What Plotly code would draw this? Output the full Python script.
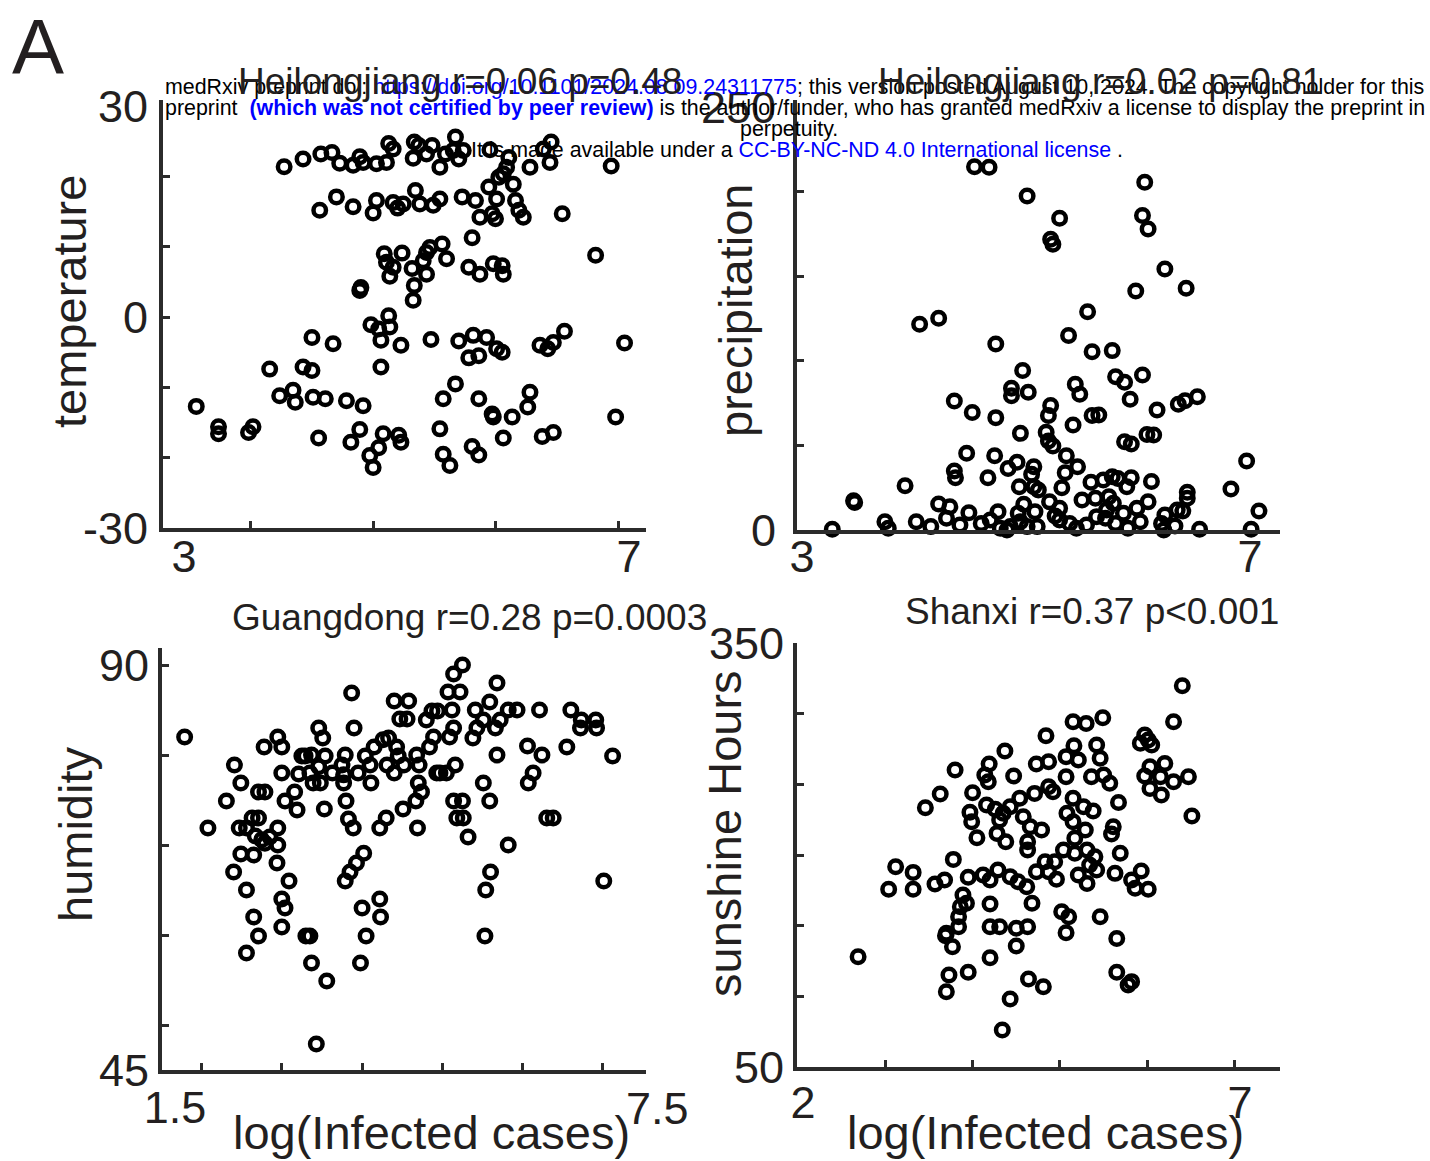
import plotly.graph_objects as go

# ---------------- data ----------------
# Heilongjiang: log(infected cases) vs temperature
hlj_temp_x = [3.90,4.07,4.23,4.33,4.40,4.52,4.58,4.61,4.73,4.82,4.84,4.88,5.07,5.06,5.11,5.18,5.23,5.30,5.35,5.44,
              5.42,5.47,5.51,5.75,5.92,5.90,5.87,5.83,5.96,6.11,6.29,6.30,6.23,6.84,4.22,4.37,4.52,4.70,4.73,4.88,
              4.92,4.97,5.08,5.12,5.24,5.30,5.50,5.62,5.66,5.74,5.81,5.77,5.80,5.98,6.01,6.05,6.40,5.59,4.80,4.82,
              4.96,4.88,4.85,5.05,5.18,5.21,5.15,5.32,5.36,5.18,5.56,5.66,5.78,5.86,5.87,5.07,5.06,4.59,4.58,6.70,
              4.84,4.68,4.75,4.85,4.77,4.95,4.15,4.34,5.22,5.47,5.60,5.72,5.56,5.65,5.81,5.86,6.20,6.27,6.32,6.42,
              6.96,4.77,3.77,4.07,4.15,3.11,3.86,3.98,4.00,4.16,4.27,4.46,4.61,5.44,5.33,5.65,6.11,6.09,5.77,5.78,
              5.95,6.88,3.31,3.31,3.58,3.62,4.21,4.58,4.50,4.79,4.93,4.95,4.75,4.67,4.70,5.30,5.33,5.39,5.59,5.65,
              5.87,6.22,6.32]
hlj_temp_y = [21.4,22.5,23.2,23.4,21.9,21.6,22.8,22.0,21.8,22.0,24.7,23.9,24.9,22.6,24.4,23.2,24.4,21.3,23.2,25.6,
              23.7,22.5,23.7,23.8,22.7,21.3,20.4,19.9,18.9,21.3,22.0,24.9,23.9,21.5,15.2,17.1,15.7,14.8,16.6,16.3,
              15.5,16.1,18.0,16.1,15.9,16.8,17.1,16.6,14.2,18.5,16.8,14.7,14.0,16.6,15.2,14.2,14.7,11.3,9.0,7.8,
              9.1,7.1,5.8,6.9,9.2,9.9,8.0,10.4,8.3,6.1,7.1,6.1,7.6,7.3,6.1,4.5,2.4,4.2,3.8,8.8,
              0.2,-1.1,-1.7,-1.4,-3.3,-4.0,-2.9,-3.8,-3.2,-3.4,-2.6,-2.9,-5.8,-5.5,-4.5,-5.0,-4.0,-4.5,-3.6,-2.0,
              -3.7,-7.1,-7.4,-7.1,-7.6,-12.7,-11.2,-10.4,-12.1,-11.4,-11.6,-11.9,-12.6,-9.5,-11.6,-11.6,-10.7,-12.8,-13.8,-14.2,
              -14.2,-14.2,-15.6,-16.6,-16.4,-15.6,-17.2,-16.0,-17.8,-16.6,-16.8,-17.8,-18.6,-19.7,-21.4,-15.9,-19.5,-21.1,-18.4,-19.6,
              -17.2,-17.0,-16.4]

# Heilongjiang: log(infected cases) vs precipitation
hlj_prec_x = [4.54,4.67,5.01,5.30,5.22,5.24,6.06,6.04,6.09,6.24,6.43,5.98,5.55,4.05,4.22,4.73,5.38,5.59,5.77,4.97,
              4.87,4.87,5.02,5.44,5.48,5.80,5.88,6.04,5.93,4.36,4.52,4.73,4.95,5.22,5.20,5.18,5.20,5.24,5.42,5.59,
              5.65,6.17,6.36,6.42,6.53,5.88,5.94,6.08,6.14,4.47,4.72,4.36,4.37,4.66,4.92,4.84,5.07,5.05,5.36,5.46,
              5.35,6.97,3.92,3.46,3.47,4.94,5.07,5.11,5.32,5.58,5.69,5.77,5.82,5.90,5.94,6.12,6.83,6.44,6.44,7.08,
              4.22,4.32,4.49,4.75,4.98,5.08,5.21,5.30,5.50,5.62,5.74,5.78,5.99,6.09,6.35,6.40,6.24,4.02,4.15,3.74,
              3.77,3.27,4.29,4.41,4.60,4.68,4.77,4.86,4.95,5.01,5.10,5.30,5.39,5.45,5.54,5.63,5.71,5.80,5.91,6.02,
              6.21,6.33,6.55,7.01,6.23,4.83,4.93,5.26,5.72,5.87]
hlj_prec_y = [214.7,214.3,197.4,184.2,171.8,168.8,205.5,185.8,177.9,154.3,142.8,141.3,129.0,121.6,125.1,109.9,114.9,105.4,106.0,94.2,
              83.7,79.4,81.4,86.1,80.2,90.6,87.3,91.6,77.2,76.2,69.5,66.4,57.1,73.5,67.6,57.7,52.6,49.6,62.1,67.6,
              68.0,70.9,74.3,76.4,78.8,52.2,50.8,56.5,56.1,45.3,43.9,34.9,30.9,30.9,40.0,36.4,37.4,32.9,43.9,37.4,
              33.9,40.8,26.2,17.3,16.2,25.6,25.6,23.6,25.0,28.2,29.6,31.5,30.5,25.6,30.9,28.6,24.2,22.3,18.7,11.2,
              15.4,13.8,10.2,10.8,15.2,10.8,16.7,12.8,17.7,18.7,19.7,15.8,12.8,16.7,11.8,11.2,8.9,4.9,2.0,4.9,
              1.0,0.4,6.9,3.0,3.9,5.9,1.0,2.0,4.9,2.0,2.0,5.9,3.9,1.0,3.0,7.9,6.9,3.9,1.0,4.9,
              3.9,2.4,0.4,0.4,0.0,0.0,9.9,8.3,11.8,9.9]

# Guangdong: log(infected cases) vs humidity
gd_hum_x = [1.62,1.91,2.14,2.24,2.32,2.30,2.39,2.46,2.54,2.50,2.58,2.62,2.68,2.78,2.78,2.32,2.48,2.23,2.39,2.77,
            2.92,2.83,2.87,2.48,2.54,2.39,2.83,2.54,2.62,2.61,2.78,2.83,2.83,2.87,2.99,3.02,3.04,3.12,3.20,3.22,
            3.29,3.31,3.29,3.34,3.37,3.36,3.46,3.58,3.60,3.62,3.60,3.63,3.66,3.72,3.70,3.73,3.78,3.87,3.93,3.94,
            3.98,4.09,4.16,4.14,4.23,4.26,4.28,4.35,4.23,4.41,4.30,4.39,4.05,4.13,4.34,4.51,4.54,4.53,4.57,4.50,
            4.52,3.85,3.76,3.68,3.62,3.83,3.88,3.81,4.05,4.06,3.13,3.18,3.20,3.39,3.26,4.63,4.67,4.70,4.77,4.72,
            4.80,4.88,4.92,4.97,4.99,4.95,4.90,4.97,5.08,5.05,4.97,5.08,5.01,5.09,5.15,5.21,5.24,5.26,5.34,5.42,
            5.49,5.51,5.55,5.51,5.34,5.42,5.65,5.76,5.65,5.43,5.37,5.36,5.89,5.96,5.90,6.07,6.04,6.13,6.21,6.38,
            6.43,6.56,6.55,6.74,6.75,6.95,6.84,3.08,3.18,4.76]
gd_hum_y = [82.0,71.9,74.9,78.9,76.9,71.9,71.9,73.0,73.0,71.0,70.6,70.2,70.9,71.9,70.0,69.0,68.9,67.0,65.0,68.0,
            66.0,64.0,63.0,62.0,59.9,58.0,60.9,75.9,75.9,80.9,82.0,80.9,78.0,74.9,75.9,73.9,77.9,79.9,80.0,76.9,
            78.7,76.9,83.0,81.9,79.9,74.0,78.0,78.9,77.8,80.0,76.9,74.9,72.9,71.9,86.9,83.0,78.0,79.9,78.9,76.9,
            80.9,81.7,81.9,78.9,78.0,80.9,79.9,78.9,86.0,86.0,84.0,84.0,71.9,73.0,74.0,80.0,78.9,76.9,75.9,74.9,
            71.9,69.1,68.0,67.0,66.0,63.0,59.9,56.9,64.0,62.0,59.9,59.9,56.9,54.9,47.9,83.9,80.9,84.9,84.9,82.0,
            78.0,78.0,82.0,83.0,78.9,85.0,87.0,89.0,90.0,87.0,74.9,74.9,73.0,73.0,70.9,81.9,85.0,83.0,83.9,85.9,
            83.0,88.0,83.9,80.0,76.9,74.9,85.0,85.0,70.0,67.0,65.0,59.9,81.0,78.0,76.9,80.0,85.0,73.0,73.0,80.9,
            85.0,83.9,83.0,83.9,83.0,79.9,66.0,79.9,78.0,78.0]

# Shanxi: log(infected cases) vs sunshine hours
sx_sun_x = [6.34,6.24,5.09,5.24,5.43,4.78,4.31,4.13,4.08,4.12,4.41,3.74,3.57,3.40,3.94,3.91,3.93,3.99,4.10,4.20,
            4.29,4.37,4.48,4.65,4.25,4.22,4.32,4.52,4.60,4.73,4.57,4.57,4.67,4.81,5.01,5.10,5.15,5.36,5.40,5.30,
            5.44,5.51,5.01,4.81,4.86,5.09,5.21,5.32,5.61,5.02,5.09,5.23,5.55,5.53,5.63,4.98,5.11,5.25,5.34,5.36,
            5.91,5.95,5.86,5.99,5.97,6.14,5.91,6.09,6.24,6.41,5.97,6.10,6.45,3.72,3.06,3.26,2.98,3.26,3.51,3.62,
            3.89,4.06,4.23,4.14,4.37,4.46,4.56,4.67,4.77,4.88,4.81,4.90,5.15,5.25,5.57,5.76,5.80,5.87,5.95,3.83,
            3.80,3.78,3.87,4.14,4.62,4.96,5.04,4.14,4.25,4.44,4.57,5.01,5.40,5.59,3.64,3.78,3.63,3.71,4.44,2.63,
            4.14,3.67,3.64,3.89,4.58,4.75,5.59,5.76,5.72,4.37,4.28,5.11,5.28]
sx_sun_y = [319.8,294.3,294.3,293.1,297.1,284.4,273.6,264.4,256.6,251.9,255.9,260.1,243.1,233.5,244.1,230.2,223.6,212.2,235.4,232.3,
            229.5,234.2,240.1,243.6,224.7,215.3,209.4,227.1,220.0,217.7,209.4,203.5,264.4,266.0,269.6,277.3,267.2,277.8,268.4,255.4,
            256.6,250.7,255.4,248.3,244.8,240.1,234.2,231.1,237.2,229.5,223.6,217.7,220.0,214.8,201.2,203.5,201.2,203.5,198.8,189.4,
            284.9,281.3,279.0,277.8,262.5,264.8,255.9,255.4,251.9,255.4,247.1,242.4,227.6,196.9,191.7,187.7,175.7,175.7,179.5,182.3,
            184.2,185.8,189.4,182.3,184.6,181.1,177.6,188.2,195.3,195.3,188.2,182.8,185.8,179.9,187.0,182.3,176.4,188.7,175.7,171.7,
            163.4,156.3,165.8,165.3,165.8,159.9,156.3,149.3,149.3,148.1,149.3,145.0,156.3,141.0,144.6,149.3,142.9,135.1,135.6,128.0,
            127.3,115.1,103.3,117.0,112.2,106.8,117.0,110.4,108.0,98.1,76.2,211.8,192.9]

panel_titles = ["Heilongjiang r=0.06 p=0.48", "Heilongjiang r=0.02 p=0.81",
                "Guangdong r=0.28 p=0.0003", "Shanxi r=0.37 p<0.001"]
y_titles = ["temperature", "precipitation", "humidity", "sunshine Hours"]
x_title = "log(Infected cases)"

# ---------------- styling ----------------
W, H = 1430, 1161
FONT = "Liberation Sans, Arial, Helvetica, sans-serif"
INK = "#231f20"
AXC = "#2b2b2b"
TICK_FS = 45

def px_x(p):
    return p / W

def px_y(p):
    return 1 - p / H

marker = dict(symbol="circle-open", size=12.5, color="black",
              line=dict(color="black", width=4.5))

fig = go.Figure()
series = [(hlj_temp_x, hlj_temp_y), (hlj_prec_x, hlj_prec_y),
          (gd_hum_x, gd_hum_y), (sx_sun_x, sx_sun_y)]
for i, (xs, ys) in enumerate(series):
    suf = "" if i == 0 else str(i + 1)
    fig.add_trace(go.Scatter(x=xs, y=ys, mode="markers", marker=marker,
                             xaxis="x" + suf, yaxis="y" + suf,
                             cliponaxis=False, showlegend=False,
                             hoverinfo="x+y"))

def axis(domain, rng, tickvals, ticktext, minor_vals, anchor, standoff=None):
    d = dict(domain=domain, range=rng, anchor=anchor, automargin=False,
             showline=True, linewidth=4, linecolor=AXC, mirror=False,
             showgrid=False, zeroline=False,
             tickmode="array", tickvals=tickvals, ticktext=ticktext,
             ticks="inside", ticklen=0, tickwidth=0,
             tickfont=dict(family=FONT, size=TICK_FS, color=INK))
    if standoff is not None:
        d["ticklabelstandoff"] = standoff
    if minor_vals:
        d["minor"] = dict(tickmode="array", tickvals=minor_vals, ticks="inside",
                          ticklen=7, tickwidth=3, tickcolor=AXC, showgrid=False)
    return d

# panel boxes in pixels: (left, right, top, bottom)
boxes = [(163, 646, 100, 528), (797, 1280, 100, 530),
         (162, 646, 648, 1070), (797, 1280, 643, 1067)]
dom = [([px_x(l), px_x(r)], [px_y(b), px_y(t)]) for (l, r, t, b) in boxes]

fig.update_layout(
    xaxis=axis(dom[0][0], [2.811, 7.153], [3, 7], ["3", "7"], [3.60, 4.70, 5.80, 6.91], "y", -14),
    yaxis=axis(dom[0][1], [-30, 30.88], [-30, 0, 30], ["-30", "0", "30"], [-20, -10, 0, 10, 20], "x", 2),
    xaxis2=axis(dom[1][0], [2.955, 7.268], [3, 7], ["3", "7"], None, "y2", -16),
    yaxis2=axis(dom[1][1], [0, 254.1], [0, 250], ["0", "250"], [50, 100, 150, 200], "x2", 8),
    xaxis3=axis(dom[2][0], [1.338, 7.366], [1.5], ["1.5"], [1.83, 2.83, 3.83, 4.83, 5.83, 6.83], "y3", -5),
    yaxis3=axis(dom[2][1], [45, 91.9], [45, 90], ["45", "90"], [50, 60, 70, 80, 90], "x3", 0),
    xaxis4=axis(dom[3][0], [1.931, 7.458], [2, 7], ["2", "7"], [2.94, 3.94, 4.94, 5.94, 6.94], "y4", -7),
    yaxis4=axis(dom[3][1], [50, 350], [50, 350], ["50", "350"], [100, 150, 200, 250, 300], "x4", 0),
)

ann = []

def text_at(x, y, s, size, color=INK, angle=0, xanchor="center", family=FONT):
    ann.append(dict(x=px_x(x), y=px_y(y), xref="paper", yref="paper", text=s,
                    showarrow=False, textangle=angle, xanchor=xanchor,
                    yanchor="middle", font=dict(family=family, size=size, color=color)))

# panel letter
text_at(38, 47, "A", 78)

# preprint notice
NOTE_FS = 21.4
text_at(163, 87, "medRxiv preprint doi: <span style='color:#0000ff'>https://doi.org/10.1101/2024.08.09.24311775</span>; "
        "this version posted August 10, 2024. The copyright holder for this", NOTE_FS, "black", xanchor="left")
text_at(163, 108, "preprint &nbsp;<b><span style='color:#0000ff'>(which was not certified by peer review)</span></b> "
        "is the author/funder, who has granted medRxiv a license to display the preprint in", NOTE_FS, "black", xanchor="left")
text_at(789, 129, "perpetuity.", NOTE_FS, "black")
text_at(797, 150, "It is made available under a <span style='color:#0000ff'>CC-BY-NC-ND 4.0 International license</span> .",
        NOTE_FS, "black")

# panel titles
TITLE_FS = 37
text_at(460, 82, panel_titles[0], TITLE_FS)
text_at(1100, 82, panel_titles[1], TITLE_FS)
text_at(469, 617, panel_titles[2], TITLE_FS)
text_at(1092, 611, panel_titles[3], TITLE_FS)

# axis titles
AX_FS = 47
text_at(69, 302, y_titles[0], AX_FS, angle=-90)
text_at(735, 311, y_titles[1], AX_FS, angle=-90)
text_at(75, 834, y_titles[2], AX_FS, angle=-90)
text_at(724, 834, y_titles[3], AX_FS, angle=-90)
text_at(431, 1132, x_title, AX_FS)
text_at(1045, 1132, x_title, AX_FS)

# right-hand tick label of the humidity panel sits just past the axis end
text_at(657, 1108, "7.5", TICK_FS)

fig.update_layout(
    width=W, height=H,
    margin=dict(l=0, r=0, t=0, b=0),
    paper_bgcolor="white", plot_bgcolor="white",
    showlegend=False,
    annotations=ann,
)

fig.write_html("out.html")
